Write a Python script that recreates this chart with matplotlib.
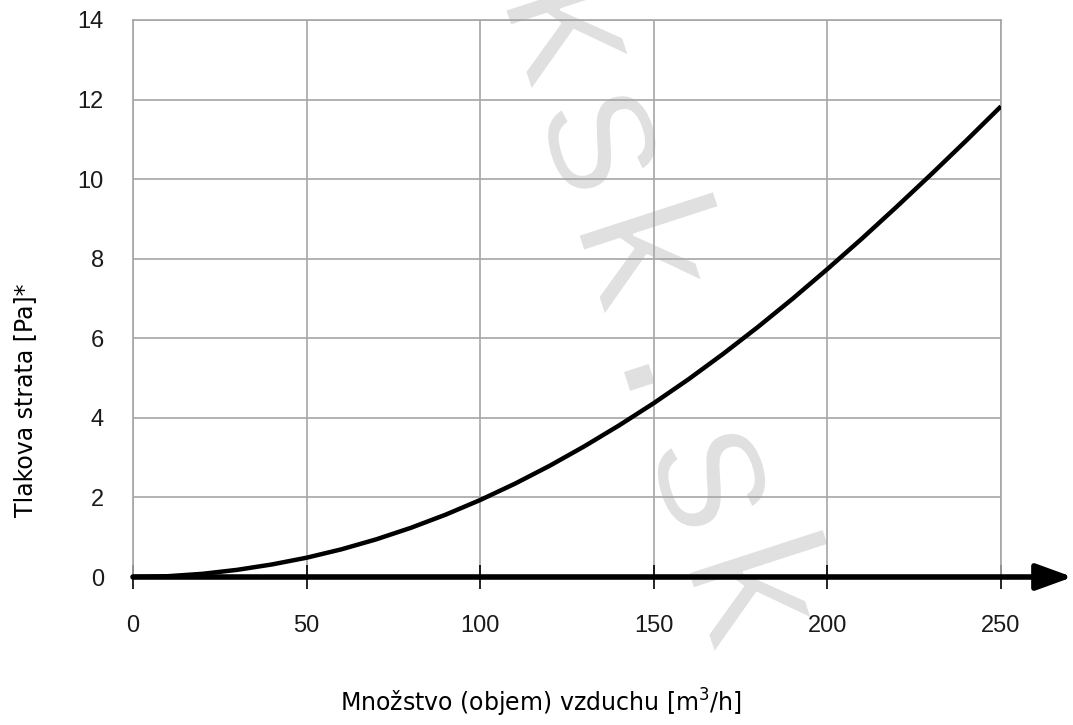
import matplotlib
matplotlib.use("Agg")
import matplotlib.pyplot as plt
import matplotlib.patheffects as pe

# hodnoty odcitane z grafu
prietok = [0, 10, 20, 30, 40, 50, 60, 70, 80, 90, 100, 110, 120, 130, 140, 150,
           160, 170, 180, 190, 200, 210, 220, 230, 240, 250]
strata = [0, 0.02, 0.08, 0.18, 0.315, 0.485, 0.695, 0.945, 1.235, 1.565, 1.935,
          2.345, 2.795, 3.285, 3.81, 4.37, 4.97, 5.61, 6.285, 6.995, 7.74,
          8.51, 9.31, 10.13, 10.97, 11.83]
x_ticks = [0, 50, 100, 150, 200, 250]
y_ticks = [0, 2, 4, 6, 8, 10, 12, 14]

W, H = 1073, 725
fig = plt.figure(figsize=(W / 100, H / 100), dpi=100)
ax = fig.add_axes([133 / W, (H - 577) / H, (1001 - 133) / W, (577 - 20) / H])

ax.set_xlim(0, 250)
ax.set_ylim(0, 14)
ax.set_xticks(x_ticks)
ax.set_yticks(y_ticks)
ax.set_axisbelow(True)
ax.grid(True, color="#a6a6a6", linewidth=1.2)

for s in ["left", "top", "right"]:
    ax.spines[s].set_color("#a6a6a6")
    ax.spines[s].set_linewidth(1.2)
ax.spines["bottom"].set_visible(False)

ax.tick_params(axis="x", direction="inout", length=17, width=1.2, color="black",
               pad=19, labelsize=17, labelcolor="#1a1a1a")
ax.tick_params(axis="y", length=0, pad=21, labelsize=17, labelcolor="#1a1a1a")
for lab in ax.get_xticklabels() + ax.get_yticklabels():
    lab.set_family("Liberation Sans")

# vodoznak (tenke pismo cez biely okraj)
ax.text(656 / W, 1 - 310 / H, "ksk.sk", transform=fig.transFigure,
        family="Liberation Mono", fontsize=142, color="#e0e0e0",
        rotation=-72, ha="center", va="center", rotation_mode="anchor",
        zorder=0.1, clip_on=False,
        path_effects=[pe.Stroke(linewidth=2, foreground="white")])

# krivka
ax.plot(prietok, strata, color="black", linewidth=3.2, solid_capstyle="butt",
        solid_joinstyle="round", zorder=3)

# os x so sipkou
ax.annotate("", xy=(1.0825, 0), xycoords=("axes fraction", "data"),
            xytext=(0, 0), textcoords="data",
            arrowprops=dict(arrowstyle="-|>,head_length=1.1,head_width=0.4",
                            color="black", lw=4, shrinkA=0, shrinkB=0,
                            mutation_scale=20),
            annotation_clip=False, zorder=4)

fig.text(25 / W, 1 - 400 / H, "Tlakova strata [Pa]*", rotation=90,
         ha="center", va="center", fontsize=17, family="DejaVu Sans")
fig.text(541 / W, 1 - 703 / H, "Množstvo (objem) vzduchu [m$^3$/h]",
         ha="center", va="center", fontsize=17, family="DejaVu Sans")

fig.savefig("out.png", dpi=100, facecolor="white")
